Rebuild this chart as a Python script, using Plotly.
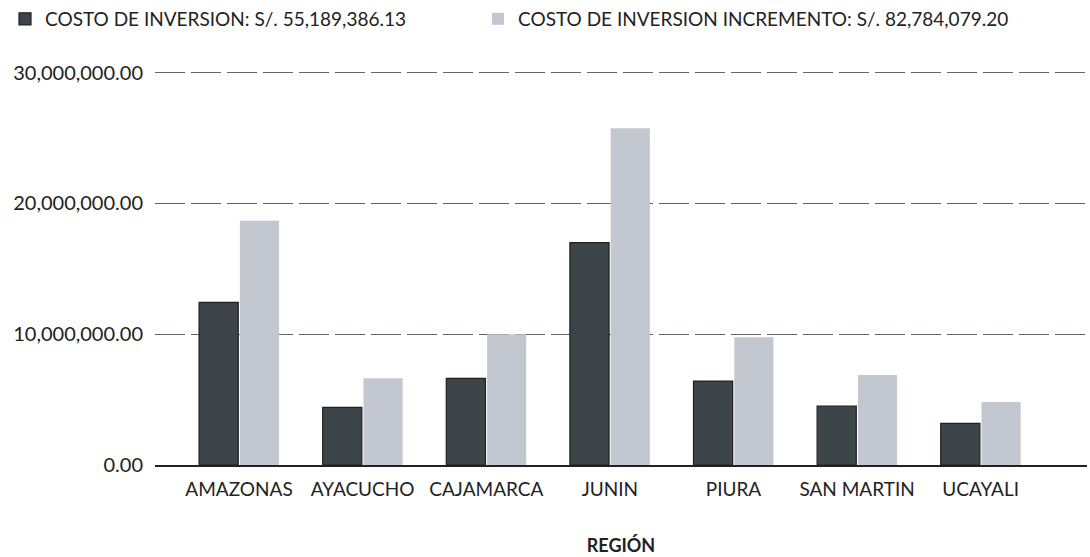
import plotly.graph_objects as go

regiones = ["AMAZONAS", "AYACUCHO", "CAJAMARCA", "JUNIN", "PIURA", "SAN MARTIN", "UCAYALI"]
costo_inversion = [12440000, 4410000, 6630000, 17000000, 6420000, 4510000, 3190000]
costo_incremento = [18680000, 6630000, 10000000, 25740000, 9760000, 6880000, 4820000]
nombre_1 = "COSTO DE INVERSION: S/. 55,189,386.13"
nombre_2 = "COSTO DE INVERSION INCREMENTO: S/. 82,784,079.20"
y_ticks = [0, 10000000, 20000000, 30000000]

FONT = "Lato"
TXT = "#222222"

fig = go.Figure()
fig.add_trace(go.Bar(
    x=regiones, y=costo_inversion, name=nombre_1, legend="legend",
    marker=dict(color="#3e4549", line=dict(color="#1c2024", width=1.2)),
))
fig.add_trace(go.Bar(
    x=regiones, y=costo_incremento, name=nombre_2, legend="legend2",
    marker=dict(color="#c3c7cf", line=dict(width=0)),
))

leg_common = dict(
    orientation="h", xref="container", yref="container",
    y=1.0, xanchor="left", yanchor="top",
    font=dict(family=FONT, size=19, color=TXT),
    bgcolor="rgba(0,0,0,0)",
)

fig.update_layout(
    width=1090, height=557,
    paper_bgcolor="white", plot_bgcolor="white",
    margin=dict(l=155, r=3, t=70, b=92, autoexpand=False),
    barmode="group", bargap=0.34, bargroupgap=0.04,
    font=dict(family=FONT, size=18, color=TXT),
    showlegend=True,
    legend=dict(x=5 / 1090, **leg_common),
    legend2=dict(x=478 / 1090, **leg_common),
)
fig.update_xaxes(
    range=[-0.68, 6.86], showgrid=False, showline=True, automargin=False,
    linecolor="#222222", linewidth=2, ticks="",
    tickfont=dict(family=FONT, size=19, color=TXT),
    ticklabelstandoff=6,
    title=dict(text="<b>REGIÓN</b>", font=dict(family=FONT, size=18, color=TXT), standoff=41),
)
fig.update_yaxes(
    range=[0, 30200000], tickvals=y_ticks, tickformat=",.2f", automargin=False,
    showgrid=True, gridcolor="#5e636a", gridwidth=1.3, griddash="30px,6px",
    zeroline=False, showline=False, ticks="",
    tickfont=dict(family=FONT, size=20, color=TXT),
    ticklabelstandoff=11,
)

fig.write_html(
    "out.html",
    config={"displayModeBar": False},
    post_script="document.body.style.margin='0';document.body.style.overflow='hidden';",
)
